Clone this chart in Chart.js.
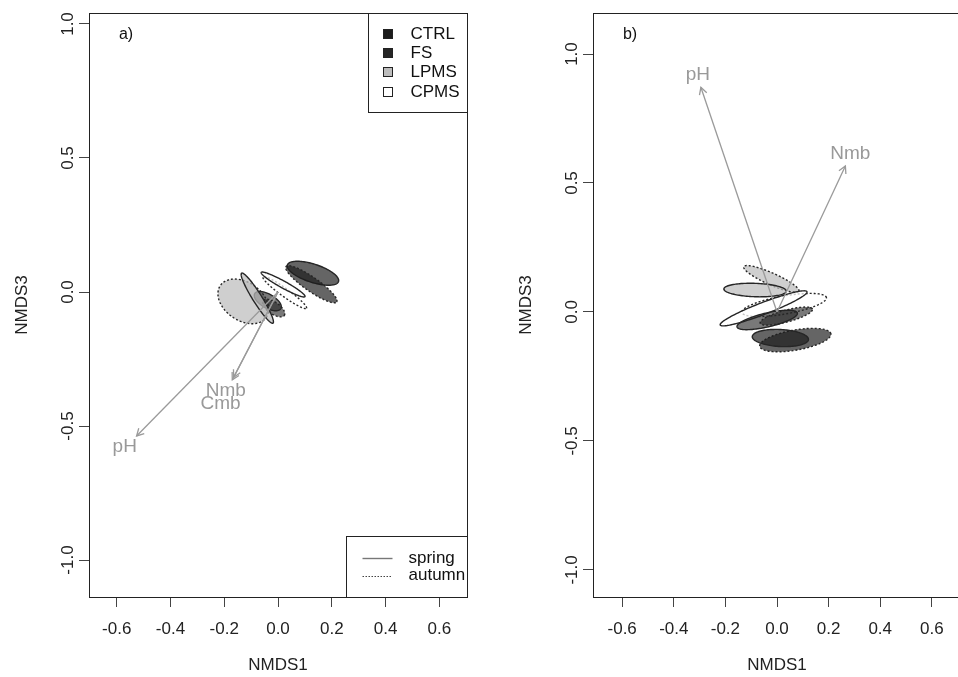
<!DOCTYPE html>
<html lang="en">
<head>
<meta charset="UTF-8">
<title>NMDS1 / NMDS3</title>
<script src="https://cdn.jsdelivr.net/npm/chart.js"></script>
<style>
  html, body { margin: 0; padding: 0; background: #fff; overflow: hidden; width: 958px; height: 677px; }
  canvas { position: absolute; top: 0; }
  #panelA { left: 0; }
  #panelB { left: 504px; }
</style>
</head>
<body>
<canvas id="panelA" width="479" height="677"></canvas>
<canvas id="panelB" width="469" height="677"></canvas>
<script>
const xTicks = [-0.6, -0.4, -0.2, 0.0, 0.2, 0.4, 0.6];
const yTicks = [-1.0, -0.5, 0.0, 0.5, 1.0];
const groups = ['CTRL', 'FS', 'LPMS', 'CPMS'];
const groupColors = ['#1c1c1c', '#262626', '#bdbdbd', '#ffffff'];
const groupFills = ['rgba(28,28,28,0.68)', 'rgba(38,38,38,0.62)', 'rgba(188,188,188,0.72)', 'rgba(255,255,255,0.72)'];
const seasons = ['spring', 'autumn'];

// ellipses: group, season, centre x, centre y, semi-axis a, semi-axis b, angle (deg)
const ellipsesA = [
  ['LPMS', 'autumn', -0.129, -0.035, 0.104, 0.071, -35],
  ['FS', 'spring', -0.038, -0.034, 0.056, 0.026, -30],
  ['FS', 'autumn', -0.016, -0.060, 0.048, 0.022, -35],
  ['LPMS', 'spring', -0.077, -0.023, 0.110, 0.017, -58],
  ['CTRL', 'spring', 0.130, 0.070, 0.100, 0.034, -18],
  ['CTRL', 'autumn', 0.124, 0.029, 0.115, 0.026, -35],
  ['CPMS', 'autumn', 0.025, -0.002, 0.100, 0.015, -36],
  ['CPMS', 'spring', 0.019, 0.028, 0.093, 0.013, -29]
];
const ellipsesB = [
  ['LPMS', 'autumn', -0.022, 0.128, 0.117, 0.023, -24],
  ['LPMS', 'spring', -0.085, 0.085, 0.121, 0.026, -2],
  ['CPMS', 'autumn', 0.028, 0.027, 0.166, 0.035, 10],
  ['CPMS', 'spring', -0.052, 0.014, 0.180, 0.023, 21],
  ['FS', 'autumn', 0.036, -0.016, 0.105, 0.023, 15],
  ['FS', 'spring', -0.038, -0.031, 0.120, 0.027, 13],
  ['CTRL', 'autumn', 0.071, -0.109, 0.140, 0.039, 10],
  ['CTRL', 'spring', 0.013, -0.101, 0.109, 0.033, -3]
];

// fitted vectors: name, tip x, tip y, label x, label y
const vectorsA = [
  ['pH', -0.526, -0.537, -0.570, -0.578],
  ['Nmb', -0.170, -0.328, -0.194, -0.368],
  ['Cmb', -0.165, -0.318, -0.214, -0.418]
];
const vectorsB = [
  ['pH', -0.295, 0.871, -0.307, 0.919],
  ['Nmb', 0.265, 0.566, 0.284, 0.612]
];

Chart.defaults.font.family = '"Liberation Sans", Arial, Helvetica, sans-serif';
Chart.defaults.color = '#222';

function ordiPlugin(ellipses, vectors, letter, withLegend) {
  return {
    id: 'ordi',
    beforeDatasetsDraw(chart) {
      const { ctx, chartArea: ca, scales: { x, y } } = chart;
      ctx.save();
      ctx.beginPath();
      ctx.rect(ca.left, ca.top, ca.right - ca.left, ca.bottom - ca.top);
      ctx.clip();
      ellipses.forEach(([g, season, cx, cy, a, b, deg]) => {
        const phi = deg * Math.PI / 180;
        ctx.beginPath();
        for (let i = 0; i <= 120; i++) {
          const t = i / 120 * 2 * Math.PI;
          const dx = a * Math.cos(t) * Math.cos(phi) - b * Math.sin(t) * Math.sin(phi);
          const dy = a * Math.cos(t) * Math.sin(phi) + b * Math.sin(t) * Math.cos(phi);
          const px = x.getPixelForValue(cx + dx);
          const py = y.getPixelForValue(cy + dy);
          if (i === 0) ctx.moveTo(px, py); else ctx.lineTo(px, py);
        }
        ctx.closePath();
        ctx.fillStyle = groupFills[groups.indexOf(g)];
        ctx.fill();
        ctx.setLineDash(season === 'autumn' ? [2, 2] : []);
        ctx.lineWidth = 1.4;
        ctx.strokeStyle = '#262626';
        ctx.stroke();
      });
      ctx.restore();
    },
    afterDatasetsDraw(chart) {
      const { ctx, chartArea: ca, scales: { x, y } } = chart;
      ctx.save();
      // arrow heads and labels
      const x0 = x.getPixelForValue(0), y0 = y.getPixelForValue(0);
      ctx.strokeStyle = '#9a9a9a';
      ctx.lineWidth = 1.3;
      vectors.forEach(([name, vx, vy, lx, ly]) => {
        const px = x.getPixelForValue(vx), py = y.getPixelForValue(vy);
        const ang = Math.atan2(py - y0, px - x0);
        ctx.beginPath();
        ctx.moveTo(px - 8 * Math.cos(ang - 0.5), py - 8 * Math.sin(ang - 0.5));
        ctx.lineTo(px, py);
        ctx.lineTo(px - 8 * Math.cos(ang + 0.5), py - 8 * Math.sin(ang + 0.5));
        ctx.stroke();
      });
      ctx.fillStyle = '#999';
      ctx.font = '19px "Liberation Sans", Arial, sans-serif';
      ctx.textAlign = 'center';
      ctx.textBaseline = 'middle';
      vectors.forEach(([name, vx, vy, lx, ly]) => {
        ctx.fillText(name, x.getPixelForValue(lx), y.getPixelForValue(ly));
      });

      // box
      ctx.strokeStyle = '#222';
      ctx.lineWidth = 1;
      ctx.strokeRect(Math.round(ca.left) + 0.5, Math.round(ca.top) + 0.5, Math.round(ca.right - ca.left), Math.round(ca.bottom - ca.top));

      // panel letter
      ctx.fillStyle = '#111';
      ctx.font = '16px "Liberation Sans", Arial, sans-serif';
      ctx.fillText(letter, ca.left + 37, ca.top + 22);

      if (withLegend) {
        const r = Math.round(ca.right) + 0.5, t = Math.round(ca.top) + 0.5, b = Math.round(ca.bottom) + 0.5;
        ctx.font = '17px "Liberation Sans", Arial, sans-serif';
        ctx.textAlign = 'left';
        // group legend
        ctx.fillStyle = '#fff';
        ctx.fillRect(r - 99, t, 99, 99);
        ctx.strokeStyle = '#222';
        ctx.strokeRect(r - 99, t, 99, 99);
        groups.forEach((g, i) => {
          const cy = ca.top + 20 + i * 19.4;
          ctx.fillStyle = groupColors[i];
          ctx.fillRect(r - 84, Math.round(cy - 4.5) + 0.5, 9, 9);
          ctx.strokeStyle = '#222';
          ctx.strokeRect(r - 84, Math.round(cy - 4.5) + 0.5, 9, 9);
          ctx.fillStyle = '#111';
          ctx.fillText(g, r - 57, cy + 1);
        });
        // season legend
        ctx.fillStyle = '#fff';
        ctx.fillRect(r - 121, b - 61, 121, 61);
        ctx.strokeStyle = '#222';
        ctx.strokeRect(r - 121, b - 61, 121, 61);
        seasons.forEach((s, i) => {
          const cy = ca.bottom - 39 + i * 17.5;
          ctx.strokeStyle = i === 0 ? '#777' : '#444';
          ctx.lineWidth = i === 0 ? 1.4 : 1;
          ctx.setLineDash(i === 0 ? [] : [1.5, 1.5]);
          ctx.beginPath();
          ctx.moveTo(r - 105, Math.round(cy) + 0.5);
          ctx.lineTo(r - 75, Math.round(cy) + 0.5);
          ctx.stroke();
          ctx.setLineDash([]);
          ctx.fillStyle = '#111';
          ctx.fillText(s, r - 59, cy);
        });
      }
      ctx.restore();
    }
  };
}

function makePanel(id, ellipses, vectors, xMin, xMax, yMin, yMax, letter, withLegend) {
  const datasets = vectors.map(([name, vx, vy]) => ({
    label: name,
    data: [{ x: 0, y: 0 }, { x: vx, y: vy }],
    showLine: true,
    borderColor: '#9a9a9a',
    borderWidth: 1.3,
    pointRadius: 0
  }));
  const tickGrid = { drawOnChartArea: false, drawTicks: true, tickLength: 10, color: '#444', lineWidth: 1 };
  return new Chart(document.getElementById(id), {
    type: 'scatter',
    data: { datasets },
    options: {
      responsive: false,
      animation: false,
      layout: { padding: { top: 13, right: 12, left: 0, bottom: 0 } },
      plugins: { legend: { display: false }, tooltip: { enabled: false } },
      scales: {
        x: {
          type: 'linear', position: 'bottom', min: xMin, max: xMax,
          afterBuildTicks: s => { s.ticks = xTicks.map(v => ({ value: v })); },
          afterFit: s => { s.height = 80; },
          grid: tickGrid,
          border: { display: false },
          ticks: { color: '#222', font: { size: 17 }, padding: 12, maxRotation: 0, autoSkip: false, callback: v => v.toFixed(1) },
          title: { display: true, text: 'NMDS1', color: '#222', font: { size: 17 }, padding: { top: 0, bottom: 1 } }
        },
        y: {
          type: 'linear', position: 'left', min: yMin, max: yMax,
          afterBuildTicks: s => { s.ticks = yTicks.map(v => ({ value: v })); },
          afterFit: s => { s.width = 89; },
          grid: tickGrid,
          border: { display: false },
          ticks: { color: '#222', font: { size: 17 }, padding: -4, minRotation: 90, maxRotation: 90, crossAlign: 'center', autoSkip: false, callback: v => v.toFixed(1) },
          title: { display: true, text: 'NMDS3', color: '#222', font: { size: 17 }, padding: { top: 12, bottom: 0 } }
        }
      }
    },
    plugins: [ordiPlugin(ellipses, vectors, letter, withLegend)]
  });
}

makePanel('panelA', ellipsesA, vectorsA, -0.703, 0.703, -1.138, 1.041, 'a)', true);
makePanel('panelB', ellipsesB, vectorsB, -0.713, 0.713, -1.105, 1.159, 'b)', false);
</script>
</body>
</html>
